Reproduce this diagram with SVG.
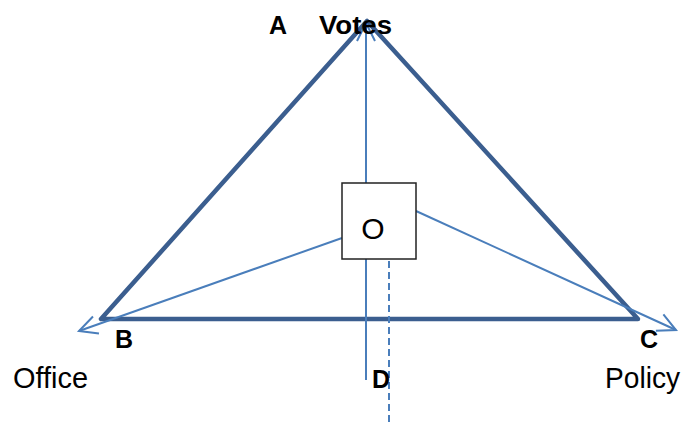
<svg xmlns="http://www.w3.org/2000/svg" width="681" height="425" viewBox="0 0 681 425">
  <style>
    .tri { fill: none; stroke: #3b5e8f; stroke-width: 4.5; stroke-linejoin: round; }
    .thin { fill: none; stroke: #4a7ebb; stroke-width: 2; }
    .dash { fill: none; stroke: #4a7ebb; stroke-width: 2; stroke-dasharray: 7 4; }
    .lbl { font-family: "Liberation Sans", Arial, sans-serif; font-weight: bold; font-size: 25px; fill: #000; }
    .txt { font-family: "Liberation Sans", Arial, sans-serif; font-size: 29px; fill: #000; }
  </style>
  <defs>
    <marker id="arr" markerUnits="userSpaceOnUse" markerWidth="24" markerHeight="24" viewBox="-20 -12 24 24" refX="0" refY="0" orient="auto">
      <path d="M -18 -9 L 0 0 L -18 9" fill="none" stroke="#4a7ebb" stroke-width="2"/>
    </marker>
  </defs>
  <rect width="681" height="425" fill="#fff"/>
  <g id="triangle">
    <polygon class="tri" points="367,21 101,319 638,319"/>
  </g>
  <g id="connectors">
    <line class="thin" x1="366" y1="380" x2="366" y2="23" marker-end="url(#arr)"/>
    <line class="thin" x1="342" y1="238" x2="79" y2="331" marker-end="url(#arr)"/>
    <line class="thin" x1="416" y1="211" x2="676" y2="330" marker-end="url(#arr)"/>
    <line class="dash" x1="389" y1="261" x2="389" y2="425"/>
  </g>
  <g id="node-O">
    <rect x="342" y="183" width="74" height="76" fill="#fff" stroke="#222" stroke-width="1.5"/>
    <text class="txt" x="373" y="239" text-anchor="middle" style="font-size:30px">O</text>
  </g>
  <g id="node-A">
    <text class="lbl" x="269" y="34">A</text>
    <text class="lbl" x="319" y="34" textLength="73" lengthAdjust="spacingAndGlyphs">Votes</text>
  </g>
  <g id="node-B">
    <text class="lbl" x="115" y="348">B</text>
    <text class="txt" x="13" y="388" textLength="75" lengthAdjust="spacingAndGlyphs">Office</text>
  </g>
  <g id="node-C">
    <text class="lbl" x="640" y="348">C</text>
    <text class="txt" x="605" y="388" textLength="75" lengthAdjust="spacingAndGlyphs">Policy</text>
  </g>
  <g id="node-D">
    <text class="lbl" x="372" y="388">D</text>
  </g>
</svg>
